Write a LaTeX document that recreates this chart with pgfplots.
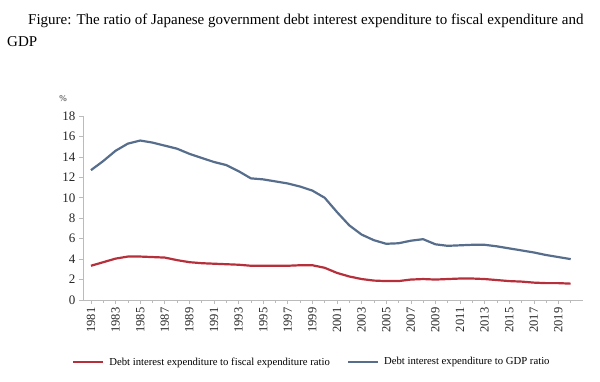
\documentclass[border=0pt]{standalone}
\usepackage{pgfplots}
\pgfplotsset{compat=1.18}
\usepackage{fontspec}
\setmainfont{Liberation Serif}
\definecolor{redline}{HTML}{B5303A}
\definecolor{blueline}{HTML}{566D8C}
\definecolor{axgray}{HTML}{BBBBBB}
\begin{document}
\begin{tikzpicture}[x=1pt,y=1pt]
\path[use as bounding box] (0,0) rectangle (600,381);
\node[anchor=base west,font=\fontsize{15}{17}\selectfont,inner sep=0pt] at (28,356) {Figure: The ratio of Japanese government debt interest expenditure to fiscal expenditure and};
\node[anchor=base west,font=\fontsize{15}{17}\selectfont,inner sep=0pt] at (7,334) {GDP};
\begin{axis}[
  at={(83pt,81pt)}, anchor=south west,
  scale only axis, width=500pt, height=184pt,
  xmin=1980.35, xmax=2021, ymin=0, ymax=18,
  axis x line*=bottom, axis y line*=left,
  axis line style={axgray, line width=0.8pt},
  tick style={axgray, line width=0.6pt},
  tick align=outside,
  major tick length=4pt, minor tick length=2.5pt,
  xtick={1981,1983,...,2019},
  minor xtick={1982,1984,...,2020},
  ytick={0,2,...,18},
  x tick label style={rotate=90, anchor=east, font=\fontsize{12.5}{13}\selectfont, text=black!85},
  y tick label style={font=\fontsize{13}{14}\selectfont, text=black!85},
  xticklabel={\pgfmathprintnumber[1000 sep={}]{\tick}},
  /pgf/number format/assume math mode=true,
  /pgf/number format/1000 sep={},
  legend columns=2,
  legend style={draw=none, fill=none, at={(-0.022,-0.337)}, anchor=west, inner sep=0pt,
    font=\fontsize{10.7}{12}\selectfont,
    nodes={inner xsep=5pt},
    /tikz/every even column/.append style={column sep=12pt}},
  legend image code/.code={\draw[#1] (0pt,0pt) -- (30pt,0pt);},
  legend cell align=left,
  clip=false,
]
\addplot[redline, line width=2.2pt, line join=round] coordinates {
(1981,3.35)(1982,3.7)(1983,4.05)(1984,4.25)(1985,4.25)(1986,4.2)(1987,4.15)(1988,3.9)(1989,3.7)(1990,3.6)
(1991,3.55)(1992,3.5)(1993,3.45)(1994,3.35)(1995,3.35)(1996,3.35)(1997,3.35)(1998,3.4)(1999,3.4)(2000,3.15)
(2001,2.65)(2002,2.3)(2003,2.05)(2004,1.9)(2005,1.85)(2006,1.85)(2007,2.0)(2008,2.05)(2009,2.0)(2010,2.05)
(2011,2.1)(2012,2.1)(2013,2.05)(2014,1.95)(2015,1.85)(2016,1.8)(2017,1.7)(2018,1.65)(2019,1.65)(2020,1.6)
};
\addlegendentry{Debt interest expenditure to fiscal expenditure ratio}
\addplot[blueline, line width=2.2pt, line join=round] coordinates {
(1981,12.7)(1982,13.6)(1983,14.6)(1984,15.3)(1985,15.6)(1986,15.4)(1987,15.1)(1988,14.8)(1989,14.3)(1990,13.9)
(1991,13.5)(1992,13.2)(1993,12.6)(1994,11.9)(1995,11.8)(1996,11.6)(1997,11.4)(1998,11.1)(1999,10.7)(2000,10.0)
(2001,8.6)(2002,7.3)(2003,6.4)(2004,5.85)(2005,5.5)(2006,5.55)(2007,5.8)(2008,5.95)(2009,5.45)(2010,5.3)
(2011,5.35)(2012,5.4)(2013,5.4)(2014,5.25)(2015,5.05)(2016,4.85)(2017,4.65)(2018,4.4)(2019,4.2)(2020,4.0)
};
\addlegendentry{Debt interest expenditure to GDP ratio}
\end{axis}
\node[font=\fontsize{9}{10}\selectfont, text=black!80, inner sep=0pt] at (63,282) {\%};
\end{tikzpicture}
\end{document}
